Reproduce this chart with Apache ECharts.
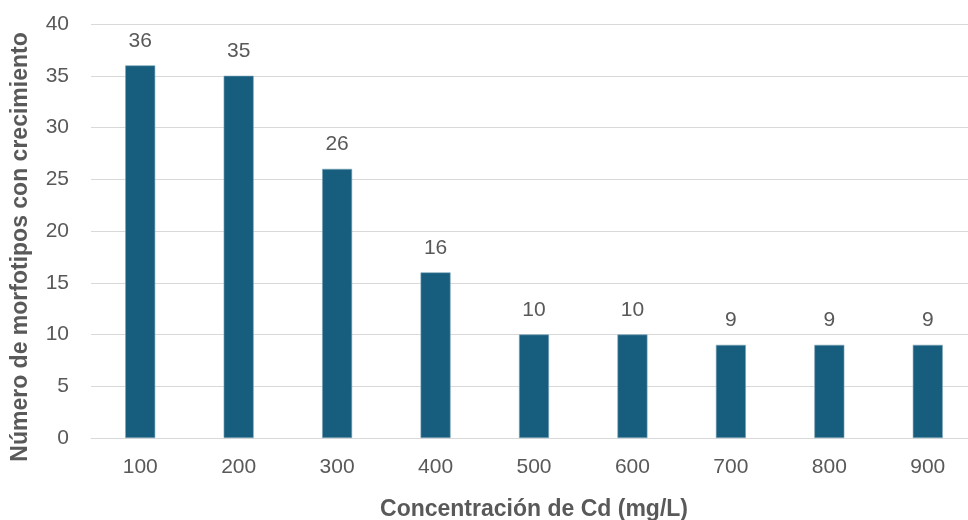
<!DOCTYPE html>
<html>
<head>
<meta charset="utf-8">
<script src="https://cdn.jsdelivr.net/npm/echarts@6/dist/echarts.min.js"></script>
<style>html,body{margin:0;padding:0;background:#fff}#c{width:968px;height:520px}</style>
</head>
<body>
<div id="c"></div>
<script>
const categories = ['100','200','300','400','500','600','700','800','900'];
const values = [36,35,26,16,10,10,9,9,9];
const yTicks = {min:0, max:40, interval:5};
const xTitle = 'Concentración de Cd (mg/L)';
const yTitle = 'Número de morfotipos con crecimiento';

const chart = echarts.init(document.getElementById('c'), null, {renderer:'canvas'});
const font = '"Liberation Sans", Arial, sans-serif';
chart.setOption({
  animation:false,
  backgroundColor:'#fff',
  grid:{left:91, top:24, width:886, height:414, containLabel:false, outerBoundsMode:'none'},
  xAxis:{
    type:'category', data:categories,
    axisLine:{lineStyle:{color:'#d9d9d9', width:1}},
    axisTick:{show:false},
    axisLabel:{color:'#595959', fontSize:21, fontFamily:font, margin:19},
    name:xTitle, nameLocation:'middle', nameGap:60,
    nameTextStyle:{color:'#595959', fontSize:23, fontWeight:'bold', fontFamily:font}
  },
  yAxis:{
    type:'value', min:yTicks.min, max:yTicks.max, interval:yTicks.interval,
    axisLine:{show:false}, axisTick:{show:false},
    splitLine:{lineStyle:{color:'#d9d9d9', width:1}},
    axisLabel:{color:'#595959', fontSize:21, fontFamily:font, margin:22},
    name:yTitle, nameLocation:'middle', nameGap:59, nameRotate:90,
    nameTextStyle:{color:'#595959', fontSize:23, fontWeight:'bold', fontFamily:font, padding:[0,32,0,0]}
  },
  series:[{
    type:'bar', data:values, barWidth:30,
    itemStyle:{color:'#175e7e', borderColor:'#7fa6b8', borderWidth:0.6},
    label:{show:true, position:'top', distance:14, color:'#595959', fontSize:21, fontFamily:font}
  }]
});
</script>
</body>
</html>
